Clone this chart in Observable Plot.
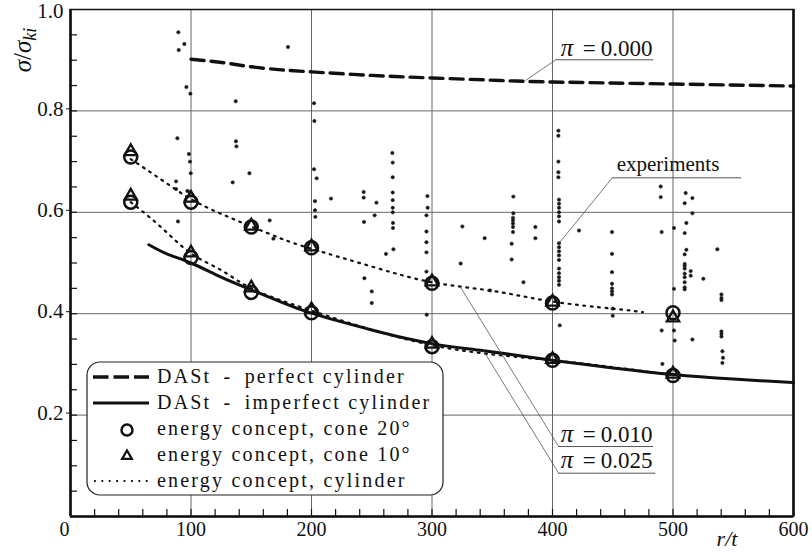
<!DOCTYPE html>
<html><head><meta charset="utf-8">
<script src="https://cdn.jsdelivr.net/npm/d3@7"></script>
<script src="https://cdn.jsdelivr.net/npm/@observablehq/plot@0.6"></script>
<style>
body{margin:0;background:#fff}
#chart svg{display:block}
#chart svg text, #chart svg tspan{font-family:"Liberation Serif","Times New Roman","DejaVu Serif",serif !important}
</style>
</head><body><div id="chart"></div>
<script>
// ---- data ----
const perfectRT = [100,127,150,175,200,250,300,357,400,500,600];
const perfectS  = [0.902,0.895,0.887,0.881,0.877,0.870,0.865,0.860,0.857,0.853,0.849];

const imperfRT = [65,80,100,125,150,175,200,250,300,343,400,450,500,550,600];
const imperfS  = [0.536,0.518,0.500,0.472,0.447,0.423,0.401,0.368,0.341,0.327,0.308,0.293,0.280,0.271,0.264];

const coneRT = [50,100,150,200,300,400,500];
const cone20P010 = [0.709,0.620,0.571,0.530,0.460,0.421,0.402];
const cone10P010 = [0.720,0.628,0.573,0.532,0.463,0.423,0.392];
const cone20P025 = [0.620,0.511,0.442,0.402,0.335,0.308,0.278];
const cone10P025 = [0.632,0.520,0.451,0.408,0.340,0.310,0.281];

const cylP010RT = [50,75,100,125,150,175,200,250,300,350,400,450,475];
const cylP010S  = [0.705,0.665,0.626,0.597,0.572,0.548,0.528,0.493,0.462,0.445,0.424,0.410,0.403];
const cylP025RT = [50,75,100,125,150,200,300,400,500];
const cylP025S  = [0.620,0.571,0.519,0.486,0.450,0.406,0.338,0.308,0.279];

const expRT = [89.5,94.5,89.8,96.2,99.5,180.5,137.1,202.1,202.4,88.7,137.3,137.7,98.3,99.2,99.8,148.5,134.6,87.6,87.6,97,98.9,89.2,202.1,204.3,202.9,202.9,203.2,216.2,243.3,243.3,253.9,252.4,243.6,165.3,168.4,
  267.1,267.4,267.4,267.4,267.4,267.4,267.4,267.6,267.6,268,261.8,243.9,250,250,296.2,296.4,295.4,295.4,295.4,295.4,295.4,295.6,325.2,343.7,323.8,348.1,
  367.5,367.5,367.2,367.2,367.2,367.2,367.2,366.1,366.1,375.9,385.8,385.8,404.9,404.9,404.9,404.9,404.9,405.4,405.4,405.4,405.4,405.4,405.4,405.4,405.4,405.4,405.4,405.4,405.4,405.4,405.4,405.4,405.4,406,422,
  449.4,449.4,449.4,449.4,449.4,449.4,449.4,450,450,489.8,489.8,490.6,500.8,500.8,490.6,500.8,501.4,491.2,
  510.5,516.1,509.7,516.1,511.1,509.7,511.1,509.7,509.7,509.7,509.7,509.7,509.7,509.7,509.7,509.7,514.7,514.7,525.2,516.1,536.8,540.2,540.2,540.2,540.2,540.2,540.2,541,541.5,541];
const expS = [0.955,0.932,0.920,0.847,0.834,0.926,0.819,0.815,0.780,0.746,0.740,0.730,0.715,0.700,0.677,0.677,0.659,0.661,0.646,0.642,0.640,0.582,0.685,0.667,0.622,0.604,0.591,0.627,0.640,0.629,0.619,0.594,0.581,0.584,0.548,
  0.717,0.698,0.669,0.639,0.624,0.609,0.600,0.579,0.569,0.527,0.518,0.470,0.444,0.421,0.632,0.609,0.594,0.562,0.541,0.521,0.483,0.398,0.572,0.549,0.499,0.446,
  0.631,0.598,0.589,0.584,0.578,0.571,0.561,0.538,0.507,0.462,0.571,0.549,0.761,0.751,0.700,0.679,0.669,0.625,0.617,0.609,0.600,0.592,0.582,0.539,0.531,0.523,0.515,0.506,0.489,0.480,0.472,0.465,0.457,0.377,0.564,
  0.561,0.518,0.482,0.459,0.450,0.444,0.438,0.410,0.396,0.651,0.630,0.561,0.569,0.449,0.367,0.367,0.347,0.301,
  0.638,0.628,0.618,0.598,0.579,0.559,0.526,0.517,0.498,0.494,0.489,0.479,0.472,0.462,0.452,0.448,0.484,0.475,0.469,0.349,0.527,0.438,0.431,0.427,0.365,0.360,0.355,0.326,0.313,0.303];

// ticks
const xTickLabels = [100,200,300,400,500,600];
const xZeroLabel = [0];
const xGrid = [100,200,300,400,500];
const yTickLabels = [0.2,0.4,0.6,0.8];
const yTopLabel = [1.0];
const yGrid = [0.2,0.4,0.6,0.8];
const xMinor = d3.range(20,600,20);
const yMinor = d3.range(0.05,1,0.05);

// annotations
const annLabel = ["0.000","0.010","0.025"];
const annX = [406.8,406.8,406.8];
const annY = [0.909,0.1466,0.096];
const annLineY = [0.9008,0.138,0.0854];
const annLineX1 = [402.7,405.1,405.1];
const annLineX2 = [484,484,485.7];
const annTargetX = [377.7,323.8,342.7];
const annTargetY = [0.860,0.4517,0.327];
const expLabel = {text:"experiments", x:453.3, y:0.682, lineY:0.668, x1:449.7, x2:557, tx:405.4, ty:0.539};

const rows = (xs, ys) => xs.map((x,i)=>({x, y: ys[i]}));
const serif = "Liberation Serif, Times New Roman, DejaVu Serif, serif";

const ann = annLabel.map((t,i)=>({t, x:annX[i], y:annY[i], ly:annLineY[i], x1:annLineX1[i], x2:annLineX2[i], tx:annTargetX[i], ty:annTargetY[i]}));

const plot = Plot.plot({
  width: 812, height: 552,
  marginLeft: 70, marginRight: 19, marginTop: 9, marginBottom: 36,
  x: {domain:[0,600]}, y: {domain:[0,1]},
  style: {fontFamily: serif, fontSize: "20px", color: "#111", background: "#fff"},
  marks: [
    Plot.ruleX(xGrid, {stroke:"#666", strokeWidth:1}),
    Plot.ruleY(yGrid, {stroke:"#666", strokeWidth:1}),
    Plot.axisX(xMinor, {tickSize:-7, tickFormat:()=>"", label:null, strokeWidth:1.2}),
    Plot.axisY(yMinor, {tickSize:-7, tickFormat:()=>"", label:null, strokeWidth:1.2}),
    Plot.axisX(xTickLabels, {tickSize:0, tickPadding:5, label:null, fontSize:20, tickFormat:d=>String(d)}),
    Plot.axisX(xZeroLabel, {tickSize:0, tickPadding:5, label:null, fontSize:20, tickFormat:d=>String(d), dx:-6}),
    Plot.axisY(yTickLabels, {tickSize:4, tickPadding:3, label:null, fontSize:21, tickFormat:d=>d.toFixed(1), dy:-2}),
    Plot.axisY(yTopLabel, {tickSize:0, tickPadding:7, label:null, fontSize:21, tickFormat:d=>d.toFixed(1), dy:2}),
    // experiments
    Plot.dot(rows(expRT, expS), {x:"x", y:"y", r:1.7, fill:"#111", stroke:"#333", strokeWidth:0.6}),
    // energy concept cylinder
    Plot.line(rows(cylP010RT, cylP010S), {x:"x", y:"y", curve:"natural", stroke:"#111", strokeWidth:2.2, strokeDasharray:"1.8,5.6"}),
    Plot.line(rows(cylP025RT, cylP025S), {x:"x", y:"y", curve:"natural", stroke:"#111", strokeWidth:2.2, strokeDasharray:"1.8,5.6"}),
    // DASt curves
    Plot.line(rows(imperfRT, imperfS), {x:"x", y:"y", curve:"natural", stroke:"#111", strokeWidth:3}),
    Plot.line(rows(perfectRT, perfectS), {x:"x", y:"y", curve:"natural", stroke:"#111", strokeWidth:3.4, strokeDasharray:"13,7"}),
    // cone markers
    Plot.dot(rows(coneRT, cone20P010), {x:"x", y:"y", r:6.5, stroke:"#111", strokeWidth:2.5, fill:"none"}),
    Plot.dot(rows(coneRT, cone20P025), {x:"x", y:"y", r:6.5, stroke:"#111", strokeWidth:2.5, fill:"none"}),
    Plot.dot(rows(coneRT, cone10P010), {x:"x", y:"y", r:4.6, symbol:"triangle", stroke:"#111", strokeWidth:2.3, fill:"none"}),
    Plot.dot(rows(coneRT, cone10P025), {x:"x", y:"y", r:4.6, symbol:"triangle", stroke:"#111", strokeWidth:2.3, fill:"none"}),
    // annotations
    Plot.link(ann, {x1:"x1", y1:"ly", x2:"tx", y2:"ty", stroke:"#555", strokeWidth:0.8}),
    Plot.ruleY(ann, {y:"ly", x1:"x1", x2:"x2", stroke:"#555", strokeWidth:1}),
    Plot.text(ann, {x:"x", y:"y", text:()=>"π", fontStyle:"italic", fontSize:25, textAnchor:"start", lineAnchor:"bottom"}),
    Plot.text(ann, {x:"x", y:"y", text:()=>"=", fontSize:23, textAnchor:"start", lineAnchor:"bottom", dx:22}),
    Plot.text(ann, {x:"x", y:"y", text:"t", fontSize:23, textAnchor:"start", lineAnchor:"bottom", dx:40}),
    Plot.link([expLabel], {x1:"x1", y1:"lineY", x2:"tx", y2:"ty", stroke:"#555", strokeWidth:0.8}),
    Plot.ruleY([expLabel], {y:"lineY", x1:"x1", x2:"x2", stroke:"#555", strokeWidth:1}),
    Plot.text([expLabel], {x:"x", y:"y", text:"text", fontSize:21, textAnchor:"start", lineAnchor:"bottom", letterSpacing:"1.6px"}),
    // frame
    Plot.frame({stroke:"#111", strokeWidth:1.5}),
    Plot.ruleX([0,600], {stroke:"#111", strokeWidth:2.6}),
    Plot.ruleY([0], {stroke:"#111", strokeWidth:2.6})
  ]
});

document.getElementById("chart").appendChild(plot);

// Axis titles and legend
const svg = d3.select(plot);
const yl = svg.append("text").attr("transform","translate(31,50) rotate(-90)")
  .attr("text-anchor","middle").attr("font-family",serif).attr("font-size",25).attr("fill","#111");
yl.append("tspan").attr("font-style","italic").text("σ");
yl.append("tspan").text("/");
yl.append("tspan").attr("font-style","italic").text("σ");
yl.append("tspan").attr("font-style","italic").attr("font-size",18).attr("dy",5).text("ki");

svg.append("text").attr("x",727).attr("y",546).attr("text-anchor","middle")
  .attr("font-family",serif).attr("font-style","italic").attr("font-size",22).attr("fill","#111").text("r/t");

const legendItems = [
  {kind:"dash", label:"DASt\u2002-\u2002perfect cylinder"},
  {kind:"solid", label:"DASt\u2002-\u2002imperfect cylinder"},
  {kind:"circle", label:"energy concept, cone 20°"},
  {kind:"triangle", label:"energy concept, cone 10°"},
  {kind:"dot", label:"energy concept, cylinder"}
];
const lg = svg.append("g").attr("font-family",serif).attr("font-size",20).attr("fill","#111").attr("text-anchor","start");
lg.append("rect").attr("x",87).attr("y",362).attr("width",356).attr("height",133).attr("rx",13)
  .attr("fill","#fff").attr("stroke","#222").attr("stroke-width",1.2);
legendItems.forEach((d,i)=>{
  const base = 383 + i*26;
  const cy = base - 6;
  if (d.kind === "dash" || d.kind === "solid" || d.kind === "dot") {
    const l = lg.append("line").attr("x1",93).attr("x2",149).attr("y1",cy).attr("y2",cy).attr("stroke","#111");
    if (d.kind==="dash") l.attr("stroke-width",3.4).attr("stroke-dasharray","15.5,5");
    if (d.kind==="solid") l.attr("stroke-width",3);
    if (d.kind==="dot") l.attr("stroke-width",2.2).attr("stroke-dasharray","1.8,5.6").attr("x1",94);
  } else if (d.kind==="circle") {
    lg.append("circle").attr("cx",127).attr("cy",cy+1).attr("r",5.5).attr("fill","none").attr("stroke","#111").attr("stroke-width",2.5);
  } else {
    lg.append("path").attr("transform",`translate(127,${cy+1})`).attr("d",d3.symbol(d3.symbolTriangle, 40)())
      .attr("fill","none").attr("stroke","#111").attr("stroke-width",2.3);
  }
  lg.append("text").attr("x",157).attr("y",base).attr("text-anchor","start").attr("letter-spacing","2.2px").text(d.label);
});
</script></body></html>
